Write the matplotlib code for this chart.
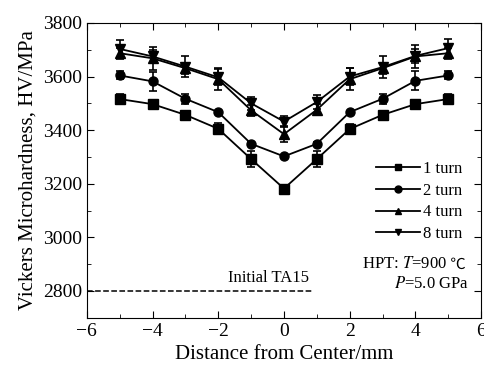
import matplotlib
matplotlib.use("Agg")
import matplotlib.pyplot as plt
from matplotlib.lines import Line2D
import numpy as np

plt.rcParams['font.family'] = ['Liberation Serif', 'DejaVu Serif']
plt.rcParams['mathtext.fontset'] = 'stix'

# distance from centre (mm)
dist = [-5, -4, -3, -2, -1, 0, 1, 2, 3, 4, 5]

hv_1turn = [3516, 3497, 3457, 3405, 3292, 3182, 3292, 3404, 3457, 3497, 3516]
hv_2turn = [3604, 3582, 3517, 3467, 3349, 3302, 3349, 3467, 3517, 3584, 3604]
hv_4turn = [3687, 3668, 3631, 3590, 3474, 3385, 3476, 3590, 3631, 3675, 3687]
hv_8turn = [3703, 3675, 3637, 3597, 3500, 3432, 3505, 3600, 3635, 3677, 3706]

err_1turn = [18, 8, 6, 20, 30, 5, 30, 20, 6, 8, 18]
err_2turn = [15, 35, 18, 6, 6, 6, 6, 6, 18, 35, 15]
err_4turn = [20, 42, 20, 42, 20, 30, 20, 42, 20, 42, 20]
err_8turn = [35, 25, 40, 30, 25, 20, 25, 30, 40, 25, 35]

series = [
    ("1 turn", hv_1turn, err_1turn, "s"),
    ("2 turn", hv_2turn, err_2turn, "o"),
    ("4 turn", hv_4turn, err_4turn, "^"),
    ("8 turn", hv_8turn, err_8turn, "v"),
]

initial_hv = 2800

fig = plt.figure(figsize=(4.85, 3.76), dpi=100)
ax = fig.add_axes([0.179, 0.155, 0.813, 0.784])

handles = []
for label, vals, errs, mk in series:
    ax.errorbar(dist, vals, yerr=errs, color='black', marker=mk, markersize=6.5,
                linewidth=1.3, elinewidth=1.2, capsize=3, capthick=1.2)
    handles.append(Line2D([], [], color='black', marker=mk, markersize=5,
                          linewidth=1.3, label=label))

ax.plot([-6, 0.85], [initial_hv, initial_hv], 'k--', linewidth=1.1)
ax.text(0.75, initial_hv + 18, "Initial TA15", ha='right', va='bottom', fontsize=12)

t1 = ax.text(4.95, 2899, r"HPT: $T$=900", ha='right', va='center', fontsize=12)
ax.annotate(" ℃", xy=(1, 0.5), xycoords=t1, va='center', ha='left', fontsize=11,
            family=['Noto Sans CJK SC', 'DejaVu Serif'])
ax.text(5.63, 2824, r"$P$=5.0 GPa", ha='right', va='center', fontsize=12)

ax.set_xlim(-6, 6)
ax.set_ylim(2700, 3800)
ax.set_xticks(np.arange(-6, 7, 2))
ax.set_xticks(np.arange(-6, 7, 1), minor=True)
ax.set_yticks(np.arange(2800, 3801, 200))
ax.set_yticks(np.arange(2700, 3801, 100), minor=True)
ax.tick_params(which='both', direction='in', top=True, right=True, labelsize=14)
ax.tick_params(which='major', length=5)
ax.tick_params(which='minor', length=3)

ax.set_xlabel("Distance from Center/mm", fontsize=15)
ax.set_ylabel("Vickers Microhardness, HV/MPa", fontsize=15)

ax.legend(handles=handles, loc='lower right', bbox_to_anchor=(0.99, 0.205), frameon=False,
          fontsize=12, handlelength=2.6, labelspacing=0.35, handletextpad=0.2)

fig.savefig("out.png", dpi=100)
